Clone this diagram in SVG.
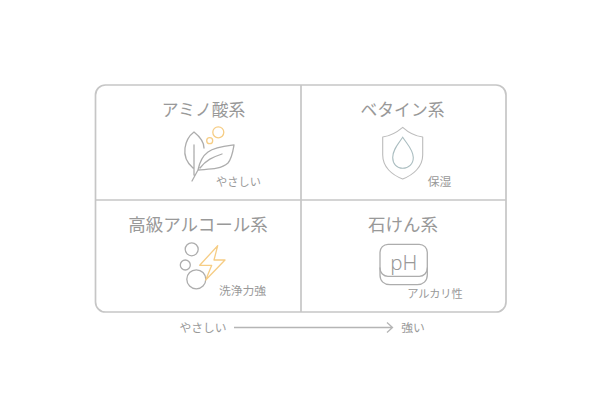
<svg xmlns="http://www.w3.org/2000/svg" width="600" height="400" viewBox="0 0 600 400">
<style>
text{font-family:"Noto Sans CJK JP","Noto Sans",sans-serif;fill:#999;text-anchor:middle}
.t{font-size:17.5px}
.n{font-size:16.800px}
.s{font-size:11.200px}
.a{font-size:11.800px}
.g{fill:none;stroke:#adadad;stroke-width:1.300;stroke-linecap:round;stroke-linejoin:round}
.o{fill:none;stroke:#f6cd85;stroke-width:1.300;stroke-linejoin:round}
.f{fill:none;stroke:#c6c6c6;stroke-width:1.700}
</style>
<rect width="600" height="400" fill="#fff"/>
<g id="matrix">
<rect class="f" x="95.500" y="85" width="410.500" height="227" rx="10"/>
<path class="f" d="M301 85V312M95.500 200H506"/>
</g>
<g id="amino">
<text class="n" x="203.500" y="116">アミノ酸系</text>
<path class="g" d="M192 181L198 170C207 169 220 170 228 163C232 158 233 151 234 145C226 146 215 147 208 152C201 157 199 165 198 170M200 168C206 160 213 157 222 154M193 168C186 162 184 155 185 148C186 141 190 135 194 132C199 136 204 142 204 148M194 145V175"/>
<circle class="o" cx="218.300" cy="132.300" r="5.500"/>
<circle class="o" cx="209.700" cy="140.700" r="3"/>
<text class="s" x="238.500" y="185.500">やさしい</text>
</g>
<g id="betaine">
<text class="n" x="402.500" y="116">ベタイン系</text>
<path class="g" style="stroke:#bcbcbc;stroke-width:1.100" d="M402.700 127.300C396 133 390 136 382.700 137V155C382.700 167 392 175 402.700 179C413 175 422.700 167 422.700 155V137C415 136 409 133 402.700 127.300Z"/>
<path d="M402.700 137.300C398 144 392.700 150 392.700 157.500C392.700 164 397 168.300 402.700 168.300C408.500 168.300 413.300 164 413.300 157.500C413.300 150 407 144 402.700 137.300Z" fill="none" stroke="#aabdc0" stroke-width="1.100"/>
<text class="a" x="439.500" y="186">保湿</text>
</g>
<g id="alcohol">
<text class="t" x="198" y="231">高級アルコール系</text>
<circle class="g" cx="191.700" cy="249.300" r="6.500"/>
<circle class="g" cx="185.300" cy="265" r="5"/>
<circle class="g" cx="196.300" cy="279.300" r="9.500"/>
<path class="o" d="M217.700 245.700L199.700 265.300H211.700L205.700 280L225 260H214Z"/>
<text class="a" x="242.500" y="295">洗浄力強</text>
</g>
<g id="soap">
<text class="t" x="403" y="231">石けん系</text>
<path class="g" d="M380 268V275C380 281 384 284.700 390 284.700H417.300C423 284.700 427.300 281 427.300 275V268"/>
<rect class="g" x="380" y="244.300" width="47.300" height="32" rx="8" fill="#fff"/>
<text x="403.700" y="269.500" style="font-size:20.500px;font-family:'Noto Sans',sans-serif;font-weight:300">pH</text>
<text class="s" x="435" y="298">アルカリ性</text>
</g>
<g id="connectors">
<path d="M234 327.500H392M387 322.500L392.500 327.500L387 332.500" fill="none" stroke="#b5b5b5" stroke-width="1.300"/>
</g>
<g id="axis-labels">
<text class="a" x="203" y="332">やさしい</text>
<text class="a" x="413" y="332">強い</text>
</g>
</svg>
